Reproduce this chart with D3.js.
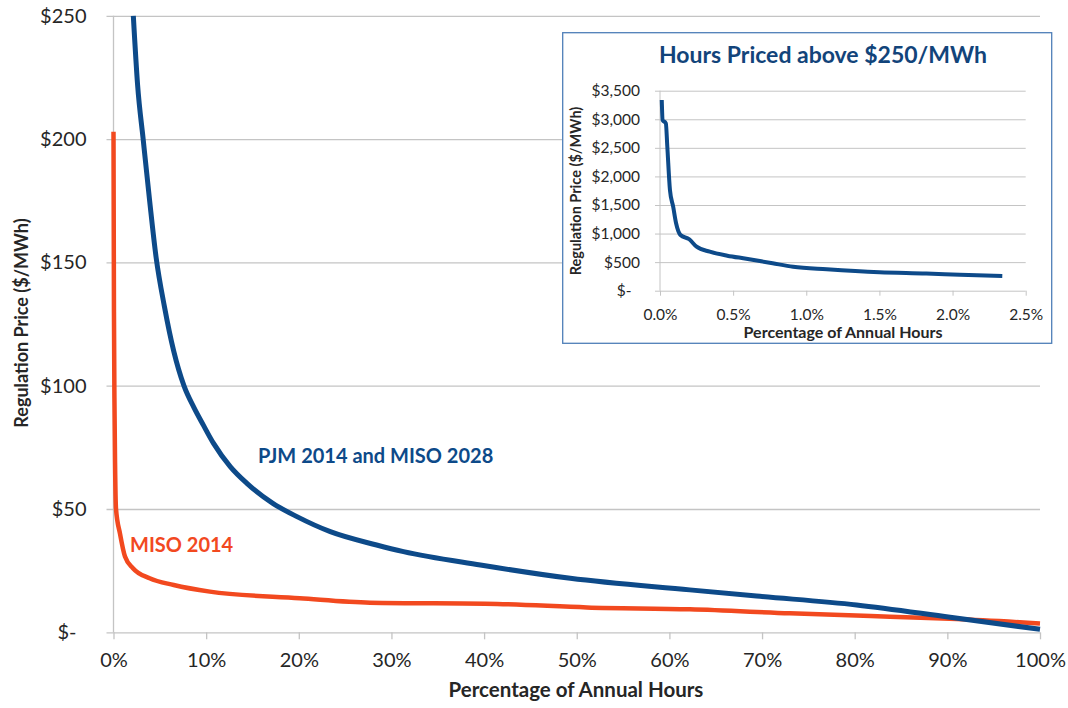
<!DOCTYPE html>
<html lang="en">
<head>
<meta charset="UTF-8">
<title>Regulation Price Duration Curves</title>
<script src="https://cdn.jsdelivr.net/npm/d3@7"></script>
<style>
  body { margin: 0; background: #fff; }
  svg text { font-family: Lato, "Open Sans", sans-serif; }
</style>
</head>
<body>
<svg id="chart" width="1068" height="708"></svg>
<script>
// PJM 2014 and MISO 2028 duration curve: % of annual hours vs $/MWh
const pjmPct   = [2.14, 2.6, 3.2, 3.9, 4.6, 5.5, 6.5, 7.6, 8.7, 9.7, 10.8, 12.6, 14.4, 17.2, 19.8, 23.4, 28.4, 31.3, 39.6, 49.3, 62.2, 69.4, 80.2, 90.3, 100];
const pjmPrice = [250, 222, 200, 175, 152, 132, 114, 100, 91, 84, 76.6, 67.2, 60.4, 52.3, 46.9, 40.8, 35.4, 32.7, 27.3, 21.9, 17.2, 14.7, 11.1, 6.1, 1.2];

// MISO 2014 duration curve
const misoPct   = [0, 0.05, 0.1, 0.17, 0.27, 0.7, 1.24, 2.1, 3.9, 6.5, 10.4, 20.1, 27.7, 41.4, 51.1, 62.2, 73, 83.8, 91, 100];
const misoPrice = [203, 130, 95, 68, 50, 40, 30.7, 26, 21.9, 19.2, 16.5, 13.8, 12.0, 11.5, 10.1, 9.3, 7.7, 6.3, 5.4, 3.6];

// inset: hours priced above $250/MWh
const insetPct   = [0.012, 0.018, 0.04, 0.05, 0.068, 0.09, 0.11, 0.14, 0.2, 0.25, 0.34, 0.46, 0.59, 0.77, 0.91, 1.14, 1.5, 1.82, 2.05, 2.34];
const insetPrice = [3337, 2987, 2930, 2520, 1762, 1470, 1180, 975, 900, 770, 683, 613, 560, 480, 420, 375, 322, 300, 278, 257];

const xTicks = [0, 10, 20, 30, 40, 50, 60, 70, 80, 90, 100];
const yTicks = [0, 50, 100, 150, 200, 250];
const insetXTicks = [0, 0.5, 1.0, 1.5, 2.0, 2.5];
const insetYTicks = [0, 500, 1000, 1500, 2000, 2500, 3000, 3500];

const blue = "#0d4a89";
const orange = "#f2491f";
const gridColor = "#c4c4c4";
const textColor = "#262626";

function drawChart(svg) {
    let x = d3.scaleLinear().domain([0, 100]).range([113.5, 1040]);
    let y = d3.scaleLinear().domain([0, 250]).range([632.3, 15.8]);

    // y gridlines (tick marks stick out 7px to the left)
    let yAxis = svg.append("g")
        .attr("transform", "translate(" + (x(0) - 7) + ",0)")
        .call(d3.axisLeft(y)
            .tickValues(yTicks)
            .tickSize(-(x(100) - x(0) + 7))
            .tickPadding(20)
            .tickFormat(function(d) { return d === 0 ? "$-" : "$" + d; }));
    yAxis.select(".domain").remove();
    yAxis.selectAll("line").attr("stroke", gridColor).attr("stroke-width", 1.3);
    yAxis.selectAll("text")
        .attr("fill", textColor)
        .style("font-size", "20px")
        .attr("dx", function(d) { return d === 0 ? "-0.5em" : null; });

    // x axis ticks
    let xAxis = svg.append("g")
        .attr("transform", "translate(0," + y(0) + ")")
        .call(d3.axisBottom(x)
            .tickValues(xTicks)
            .tickSize(7)
            .tickPadding(14)
            .tickFormat(function(d) { return d + "%"; }));
    xAxis.select(".domain").remove();
    xAxis.selectAll("line").attr("stroke", gridColor).attr("stroke-width", 1.3);
    xAxis.selectAll("text").attr("fill", textColor).style("font-size", "20px");

    // vertical axis line
    svg.append("line")
        .attr("x1", x(0)).attr("x2", x(0))
        .attr("y1", y(250)).attr("y2", y(0))
        .attr("stroke", gridColor).attr("stroke-width", 1.3);

    let line = d3.line()
        .x(function(d) { return x(d[0]); })
        .y(function(d) { return y(d[1]); })
        .curve(d3.curveMonotoneX);

    svg.append("path")
        .datum(d3.zip(misoPct, misoPrice))
        .attr("d", line)
        .attr("fill", "none")
        .attr("stroke", orange)
        .attr("stroke-width", 4.5);

    svg.append("path")
        .datum(d3.zip(pjmPct, pjmPrice))
        .attr("d", line)
        .attr("fill", "none")
        .attr("stroke", blue)
        .attr("stroke-width", 5);

    // series labels
    svg.append("text")
        .attr("x", 258).attr("y", 463)
        .attr("fill", blue)
        .style("font-size", "20px").style("font-weight", "bold")
        .text("PJM 2014 and MISO 2028");
    svg.append("text")
        .attr("x", 130).attr("y", 552)
        .attr("fill", orange)
        .style("font-size", "20px").style("font-weight", "bold")
        .text("MISO 2014");

    // axis titles
    svg.append("text")
        .attr("transform", "translate(28,323) rotate(-90)")
        .attr("text-anchor", "middle")
        .attr("fill", textColor)
        .style("font-size", "18px").style("font-weight", "bold")
        .text("Regulation Price ($/MWh)");
    svg.append("text")
        .attr("x", 576).attr("y", 697)
        .attr("text-anchor", "middle")
        .attr("fill", textColor)
        .style("font-size", "20.5px").style("font-weight", "bold")
        .text("Percentage of Annual Hours");
}

function drawInset(svg) {
    let g = svg.append("g");

    g.append("rect")
        .attr("x", 562.7).attr("y", 32.7)
        .attr("width", 489).attr("height", 310.6)
        .attr("fill", "#fff")
        .attr("stroke", "#4f7fb8")
        .attr("stroke-width", 1.3);

    let x = d3.scaleLinear().domain([0, 2.5]).range([660, 1025.7]);
    let y = d3.scaleLinear().domain([0, 3500]).range([290.7, 90.7]);

    let yAxis = g.append("g")
        .attr("transform", "translate(" + (x(0) - 5) + ",0)")
        .call(d3.axisLeft(y)
            .tickValues(insetYTicks)
            .tickSize(-(x(2.5) - x(0) + 5))
            .tickPadding(15)
            .tickFormat(function(d) { return d === 0 ? "$-" : "$" + d3.format(",")(d); }));
    yAxis.select(".domain").remove();
    yAxis.selectAll("line").attr("stroke", gridColor).attr("stroke-width", 1);
    yAxis.selectAll("text")
        .attr("fill", textColor)
        .style("font-size", "15.5px")
        .attr("dx", function(d) { return d === 0 ? "-0.55em" : null; });

    let xAxis = g.append("g")
        .attr("transform", "translate(0," + y(0) + ")")
        .call(d3.axisBottom(x)
            .tickValues(insetXTicks)
            .tickSize(5)
            .tickPadding(13)
            .tickFormat(function(d) { return d3.format(".1f")(d) + "%"; }));
    xAxis.select(".domain").remove();
    xAxis.selectAll("line").attr("stroke", gridColor).attr("stroke-width", 1);
    xAxis.selectAll("text").attr("fill", textColor).style("font-size", "15.5px");

    g.append("line")
        .attr("x1", x(0)).attr("x2", x(0))
        .attr("y1", y(3500)).attr("y2", y(0))
        .attr("stroke", gridColor).attr("stroke-width", 1);

    let line = d3.line()
        .x(function(d) { return x(d[0]); })
        .y(function(d) { return y(d[1]); })
        .curve(d3.curveMonotoneX);

    g.append("path")
        .datum(d3.zip(insetPct, insetPrice))
        .attr("d", line)
        .attr("fill", "none")
        .attr("stroke", blue)
        .attr("stroke-width", 4);

    g.append("text")
        .attr("x", 823).attr("y", 63)
        .attr("text-anchor", "middle")
        .attr("fill", "#12447a")
        .style("font-size", "23px").style("font-weight", "bold")
        .text("Hours Priced above $250/MWh");

    g.append("text")
        .attr("transform", "translate(581,191) rotate(-90)")
        .attr("text-anchor", "middle")
        .attr("fill", textColor)
        .style("font-size", "14.5px").style("font-weight", "bold")
        .text("Regulation Price ($/MWh)");
    g.append("text")
        .attr("x", 843).attr("y", 338)
        .attr("text-anchor", "middle")
        .attr("fill", textColor)
        .style("font-size", "16px").style("font-weight", "bold")
        .text("Percentage of Annual Hours");
}

let svg = d3.select("#chart");
drawChart(svg);
drawInset(svg);
</script>
</body>
</html>
